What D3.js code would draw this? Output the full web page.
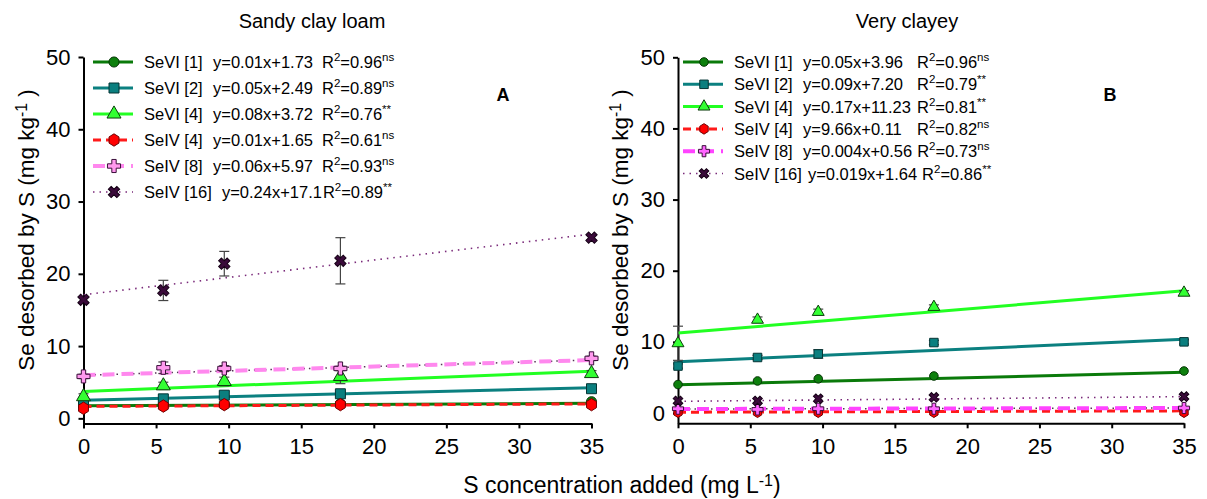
<!DOCTYPE html>
<html>
<head>
<meta charset="utf-8">
<script src="https://cdn.jsdelivr.net/npm/d3@7"></script>
<style>
  body { margin: 0; background: #fff; }
  svg { font-family: "Liberation Sans", Arial, sans-serif; }
  .legend text { white-space: pre; }
</style>
</head>
<body>
<svg id="chart" width="1207" height="499"></svg>
<script>
// ---- data ----
const sAdded = [0, 5.5, 9.7, 17.7, 35];
const xTicks = [0, 5, 10, 15, 20, 25, 30, 35];
const yTicks = [0, 10, 20, 30, 40, 50];
const seriesNames = ["SeVI [1]", "SeVI [2]", "SeVI [4]", "SeIV [4]", "SeIV [8]", "SeIV [16]"];

// panel A: sandy clay loam
const eqA = ["y=0.01x+1.73", "y=0.05x+2.49", "y=0.08x+3.72", "y=0.01x+1.65", "y=0.06x+5.97", "y=0.24x+17.1"];
const r2A = ["0.96", "0.89", "0.76", "0.61", "0.93", "0.89"];
const sigA = ["ns", "ns", "**", "ns", "ns", "**"];
const valuesA = [
  [1.7, 1.8, 1.9, 2.0, 2.3],
  [2.2, 2.7, 3.2, 3.4, 4.1],
  [3.0, 4.5, 5.1, 5.8, 6.2],
  [1.4, 1.7, 1.9, 1.9, 1.9],
  [5.8, 7.0, 6.9, 6.9, 8.3],
  [16.4, 17.7, 21.4, 21.8, 25.0]
];
const errA = [
  [0, 0, 0, 0, 0],
  [0.6, 0.2, 0.5, 0.3, 0.3],
  [0.4, 0.5, 0.6, 1.0, 0.4],
  [0, 0, 0, 0, 0],
  [0.3, 0.8, 0.4, 0.3, 0.3],
  [0.3, 1.4, 1.7, 3.2, 0.3]
];
// fitted line values at S = 0 and S = 35
const trendA = [[1.73, 2.08], [2.49, 4.24], [3.72, 6.52], [1.65, 2.0], [5.97, 8.07], [17.1, 25.5]];

// panel B: very clayey
const eqB = ["y=0.05x+3.96", "y=0.09x+7.20", "y=0.17x+11.23", "y=9.66x+0.11", "y=0.004x+0.56", "y=0.019x+1.64"];
const r2B = ["0.96", "0.79", "0.81", "0.82", "0.73", "0.86"];
const sigB = ["ns", "**", "**", "ns", "ns", "**"];
const valuesB = [
  [4.0, 4.5, 4.8, 5.2, 5.9],
  [6.6, 7.8, 8.3, 9.9, 10.0],
  [9.8, 13.1, 14.2, 14.9, 16.9],
  [0.1, 0.1, 0.1, 0.1, 0.1],
  [0.6, 0.5, 0.6, 0.6, 0.7],
  [1.7, 1.7, 2.0, 2.2, 2.3]
];
const errB = [
  [0, 0, 0, 0, 0],
  [0.3, 0.3, 0.6, 0.3, 0.3],
  [2.4, 0.4, 0.4, 0.3, 0.3],
  [0, 0, 0, 0, 0],
  [0, 0, 0, 0, 0],
  [0, 0, 0, 0, 0]
];
const trendB = [[3.96, 5.71], [7.2, 10.35], [11.23, 17.18], [0.11, 0.3], [0.56, 0.7], [1.64, 2.3]];

// ---- styles ----
const styles = [
  { color: "#0a7a0a", fill: "#0d800d", stroke: "#053505", width: 3, dash: null, sym: "circle" },
  { color: "#0b8080", fill: "#0b7f7f", stroke: "#053535", width: 3, dash: null, sym: "square" },
  { color: "#22ff22", fill: "#33ff33", stroke: "#0c3d0c", width: 3, dash: null, sym: "triangle" },
  { color: "#ff1a1a", fill: "#ff0000", stroke: "#700000", width: 3, dash: "8,5", sym: "hexagon" },
  { color: "#ff88ee", fill: "#ff99ee", stroke: "#3a0f3a", width: 4, dash: "12,7", sym: "plus", dots: true },
  { color: "#7a2a7a", fill: "#3a0a3a", stroke: "#150015", width: 1.6, dash: "1.5,5", sym: "x" }
];

const panels = [
  {
    title: "Sandy clay loam", titleX: 312, letter: "A", letterX: 503,
    xRange: [83.5, 591.5], yMin: -0.7, yRange: [423.4, 57],
    legX: 93, legY: 62, legStep: 26, colEq: 213, colR: 322, eqGap: 10, rGap: 1, msize: 1,
    pink: "#ff88ee", plusFill: "#ff99ee",
    eq: eqA, r2: r2A, sig: sigA, values: valuesA, err: errA, trend: trendA
  },
  {
    title: "Very clayey", titleX: 907, letter: "B", letterX: 1110,
    xRange: [678, 1184], yMin: -1.45, yRange: [423.3, 57.3],
    legX: 683, legY: 62, legStep: 22.3, colEq: 803, colR: 917, eqGap: 6, rGap: 5, msize: 0.85,
    pink: "#ff44ff", plusFill: "#ff66ff",
    eq: eqB, r2: r2B, sig: sigB, values: valuesB, err: errB, trend: trendB
  }
];

const svg = d3.select("#chart");

function hexPath(r) {
  const pts = d3.range(6).map(k => {
    const a = Math.PI / 2 + k * Math.PI / 3;
    return [r * 0.92 * Math.cos(a), r * Math.sin(a)];
  });
  return "M" + pts.map(p => p.join(",")).join("L") + "Z";
}

function markerPath(sym, k) {
  switch (sym) {
    case "circle": return d3.symbol(d3.symbolCircle, 80 * k * k)();
    case "square": return d3.symbol(d3.symbolSquare, 100 * k * k)();
    case "triangle": return d3.symbol(d3.symbolTriangle, 85 * k * k)();
    case "hexagon": return hexPath(6.2 * k);
    case "plus": return d3.symbol(d3.symbolCross, 95 * k * k)();
    case "x": return d3.symbol(d3.symbolCross, 80 * k * k)();
  }
}

function addSup(textSel, parts) {
  // parts: [text, isSup]
  parts.forEach(([t, sup], i) => {
    const prevSup = i > 0 && parts[i - 1][1];
    const ts = textSel.append("tspan").text(t);
    if (sup) ts.attr("dy", -7).attr("font-size", "0.7em");
    else if (prevSup) ts.attr("dy", 7);
  });
}

panels.forEach(p => {
  const x = d3.scaleLinear().domain([0, 35]).range(p.xRange);
  const y = d3.scaleLinear().domain([p.yMin, 50]).range(p.yRange);
  const g = svg.append("g");

  // axes
  const yAxis = g.append("g")
    .attr("transform", `translate(${p.xRange[0]},0)`)
    .call(d3.axisLeft(y).tickValues(yTicks).tickSize(5).tickSizeOuter(0).tickPadding(8));
  const xAxis = g.append("g")
    .attr("transform", `translate(0,${p.yRange[0]})`)
    .call(d3.axisBottom(x).tickValues(xTicks).tickSize(5).tickSizeOuter(0).tickPadding(10));
  [yAxis, xAxis].forEach(a => {
    a.attr("font-family", null).attr("font-size", null);
    a.selectAll("path, line").attr("stroke", "#000").attr("stroke-width", 2);
    a.selectAll("text").attr("font-size", 22).attr("fill", "#000");
  });

  // trend lines
  p.trend.forEach((t, i) => {
    const s = styles[i];
    const col = s.sym === "plus" ? p.pink : s.color;
    if (s.dots) {
      g.append("line")
        .attr("x1", x(0)).attr("x2", x(35))
        .attr("y1", y(t[0])).attr("y2", y(t[1]))
        .attr("stroke", "#553355").attr("stroke-width", 1.5)
        .attr("stroke-dasharray", "1.5,4");
    }
    g.append("line")
      .attr("x1", x(0)).attr("x2", x(35))
      .attr("y1", y(t[0])).attr("y2", y(t[1]))
      .attr("stroke", col).attr("stroke-width", s.width)
      .attr("stroke-dasharray", s.dash);
  });

  // error bars
  p.values.forEach((vals, i) => {
    vals.forEach((v, j) => {
      const e = p.err[i][j];
      if (!e) return;
      const cx = x(sAdded[j]);
      const eg = g.append("g").attr("stroke", "#444").attr("stroke-width", 1.2);
      eg.append("line").attr("x1", cx).attr("x2", cx).attr("y1", y(v - e)).attr("y2", y(v + e));
      eg.append("line").attr("x1", cx - 5).attr("x2", cx + 5).attr("y1", y(v - e)).attr("y2", y(v - e));
      eg.append("line").attr("x1", cx - 5).attr("x2", cx + 5).attr("y1", y(v + e)).attr("y2", y(v + e));
    });
  });

  // markers
  p.values.forEach((vals, i) => {
    const s = styles[i];
    const fill = s.sym === "plus" ? p.plusFill : s.fill;
    g.append("g").selectAll("path")
      .data(vals)
      .join("path")
      .attr("d", markerPath(s.sym, p.msize))
      .attr("transform", (d, j) => `translate(${x(sAdded[j])},${y(d)})` + (s.sym === "x" ? " rotate(45)" : ""))
      .attr("fill", fill)
      .attr("stroke", s.stroke)
      .attr("stroke-width", 1);
  });

  // legend
  const leg = g.append("g").attr("class", "legend");
  seriesNames.forEach((name, i) => {
    const s = styles[i];
    const col = s.sym === "plus" ? p.pink : s.color;
    const ly = p.legY + i * p.legStep;
    leg.append("line")
      .attr("x1", p.legX).attr("x2", p.legX + 40)
      .attr("y1", ly).attr("y2", ly)
      .attr("stroke", col).attr("stroke-width", s.width)
      .attr("stroke-dasharray", s.dash);
    leg.append("path")
      .attr("d", markerPath(s.sym, p.msize))
      .attr("transform", `translate(${p.legX + 21},${ly})` + (s.sym === "x" ? " rotate(45)" : ""))
      .attr("fill", s.sym === "plus" ? p.plusFill : s.fill)
      .attr("stroke", s.stroke).attr("stroke-width", 1);

    const nameT = leg.append("text")
      .attr("x", p.legX + 51).attr("y", ly + 6)
      .attr("font-size", 16.5).text(name);
    const nameEnd = p.legX + 51 + nameT.node().getComputedTextLength();
    const eqT = leg.append("text")
      .attr("x", Math.max(p.colEq, nameEnd + p.eqGap)).attr("y", ly + 6)
      .attr("font-size", 16.5).text(p.eq[i]);
    const eqEnd = +eqT.attr("x") + eqT.node().getComputedTextLength();
    const rt = leg.append("text")
      .attr("x", Math.max(p.colR, eqEnd + p.rGap)).attr("y", ly + 6)
      .attr("font-size", 16.5);
    addSup(rt, [["R", false], ["2", true], ["=" + p.r2[i], false], [p.sig[i], true]]);
  });

  // title and panel letter
  g.append("text")
    .attr("x", p.titleX).attr("y", 28)
    .attr("text-anchor", "middle").attr("font-size", 20)
    .text(p.title);
  g.append("text")
    .attr("x", p.letterX).attr("y", 101)
    .attr("text-anchor", "middle").attr("font-size", 18).attr("font-weight", "bold")
    .text(p.letter);

  // y label
  const yl = g.append("text")
    .attr("transform", `translate(${p.xRange[0] - 50},230) rotate(-90)`)
    .attr("text-anchor", "middle").attr("font-size", 22.5);
  addSup(yl, [["Se desorbed by S (mg kg", false], ["-1", true], [" )", false]]);
});

// shared x label
const xl = svg.append("text")
  .attr("x", 622).attr("y", 493)
  .attr("text-anchor", "middle").attr("font-size", 23);
addSup(xl, [["S concentration added (mg L", false], ["-1", true], [")", false]]);
</script>
</body>
</html>
